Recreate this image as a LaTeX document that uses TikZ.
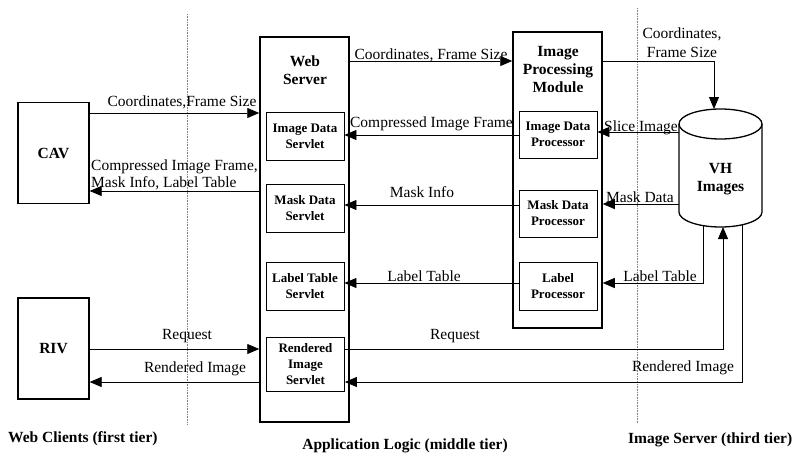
\documentclass[tikz,border=0pt]{standalone}
\usepackage{fontspec}
\setmainfont{Liberation Serif}
\usepackage{tikz}
\usetikzlibrary{arrows.meta}

\begin{document}
\begin{tikzpicture}[x=1pt,y=1pt,
    client/.style={draw, line width=1.3pt, minimum width=71pt, minimum height=101pt, inner sep=0pt, font=\fontsize{15.5}{17}\selectfont\bfseries},
    tier/.style={draw, line width=1.5pt, minimum width=89pt, inner sep=0pt},
    part/.style={draw, line width=0.8pt, minimum width=78pt, minimum height=48pt, inner sep=0pt, align=center, font=\fontsize{13}{16}\selectfont\bfseries},
    title/.style={inner sep=0pt, align=center, font=\fontsize{15.5}{18}\selectfont\bfseries},
    flow/.style={line width=0.8pt, -{Triangle[length=12pt,width=10pt]}},
    lbl/.style={inner sep=0pt, anchor=base, font=\fontsize{15.5}{17}\selectfont},
    tiername/.style={inner sep=0pt, anchor=base west, font=\fontsize{15.5}{17}\selectfont\bfseries}]
  \useasboundingbox (0,0) rectangle (793,-453);

  % tier borders
  \draw[densely dotted, gray, line width=0.6pt] (187,-14) -- (187,-425);
  \draw[densely dotted, gray, line width=0.6pt] (637,-8) -- (637,-424);

  % web clients
  \node[client] (cav) at (53.5,-153) {CAV};
  \node[client] (riv) at (53.5,-348.5) {RIV};

  % web server
  \node[tier, minimum height=385pt] (web) at (304.5,-229.5) {};
  \node[title] (webtitle) at (305,-70) {Web\\Server};
  \node[part] (ids) at (305,-136) {Image Data\\Servlet};
  \node[part] (mds) at (305,-208) {Mask Data\\Servlet};
  \node[part] (lts) at (305,-286) {Label Table\\Servlet};
  \node[part, minimum height=54pt] (ris) at (305.5,-364) {Rendered\\Image\\Servlet};

  % image processing module
  \node[tier, minimum height=296pt] (ipm) at (557.5,-180) {};
  \node[title] (ipmtitle) at (558,-70) {Image\\Processing\\Module};
  \node[part, minimum height=47pt] (idp) at (558,-134.5) {Image Data\\Processor};
  \node[part, minimum height=47pt] (mdp) at (558,-213.5) {Mask Data\\Processor};
  \node[part] (lp) at (558,-286) {Label\\Processor};

  % image server
  \draw[line width=1.3pt] (679,-124) -- (679,-212) arc[start angle=180, end angle=360, x radius=41.5, y radius=15] -- (762,-124);
  \draw[line width=1.3pt] (720.5,-124) ellipse [x radius=41.5, y radius=15];
  \node[title] (vh) at (720.5,-179) {VH\\Images};
  \coordinate (vhtop) at (714,-109);
  \coordinate (vhslice) at (679,-132);
  \coordinate (vhmask) at (679,-204);
  \coordinate (vhlabel) at (703,-225.6);
  \coordinate (vhreq) at (723,-227);
  \coordinate (vhrend) at (742,-224.8);

  % rows of the connectors
  \coordinate (rowa) at (0,-113);
  \coordinate (rowb) at (0,-191);
  \coordinate (rowc) at (0,-61);
  \coordinate (rowd) at (0,-135);
  \coordinate (rowe) at (0,-205);
  \coordinate (rowf) at (0,-283);
  \coordinate (rowg) at (0,-349);
  \coordinate (rowh) at (0,-382);

  \draw[flow] (cav.east |- rowa) -- (web.west |- rowa);
  \draw[flow] (web.west |- rowb) -- (cav.east |- rowb);
  \draw[flow] (web.east |- rowc) -- (ipm.west |- rowc);
  \draw[flow] (idp.west |- rowd) -- (ids.east |- rowd);
  \draw[flow] (mdp.west |- rowe) -- (mds.east |- rowe);
  \draw[flow] (lp.west |- rowf) -- (lts.east |- rowf);
  \draw[flow] (riv.east |- rowg) -- (web.west |- rowg);
  \draw[flow] (web.west |- rowh) -- (riv.east |- rowh);
  \draw[flow] (ipm.east |- rowc) -| (vhtop);
  \draw[flow] (vhslice) -- (idp.east |- vhslice);
  \draw[flow] (vhmask) -- (ipm.east |- vhmask);
  \draw[flow] (vhlabel) |- (ipm.east |- rowf);
  \draw[flow] (ris.east |- rowg) -| (vhreq);
  \draw[flow] (vhrend) |- (ris.east |- rowh);

  % connector labels
  \node[lbl] (la) at (182,-106) {Coordinates,Frame Size};
  \node[lbl, anchor=base west, align=left] (lb) at (91,-187) {Compressed Image Frame,\\Mask Info, Label Table};
  \node[lbl] (lc) at (431,-59) {Coordinates, Frame Size};
  \node[lbl] (ld) at (431.5,-127) {Compressed Image Frame};
  \node[lbl] (le) at (422,-197) {Mask Info};
  \node[lbl] (lf) at (424,-281) {Label Table};
  \node[lbl, align=center, font=\fontsize{15.5}{19}\selectfont] (lg) at (682,-57) {Coordinates,\\Frame Size};
  \node[lbl] (lh) at (641,-131) {Slice Image};
  \node[lbl] (li) at (640,-202) {Mask Data};
  \node[lbl] (lj) at (660,-281) {Label Table};
  \node[lbl] (lk) at (187,-339) {Request};
  \node[lbl] (ll) at (195,-372) {Rendered Image};
  \node[lbl] (lm) at (455,-339) {Request};
  \node[lbl] (ln) at (683,-371) {Rendered Image};

  % tiers
  \node[tiername] (tier1) at (8,-442) {Web Clients (first tier)};
  \node[tiername, anchor=base] (tier2) at (405,-449) {Application Logic (middle tier)};
  \node[tiername] (tier3) at (628,-443) {Image Server (third tier)};
\end{tikzpicture}
\end{document}
